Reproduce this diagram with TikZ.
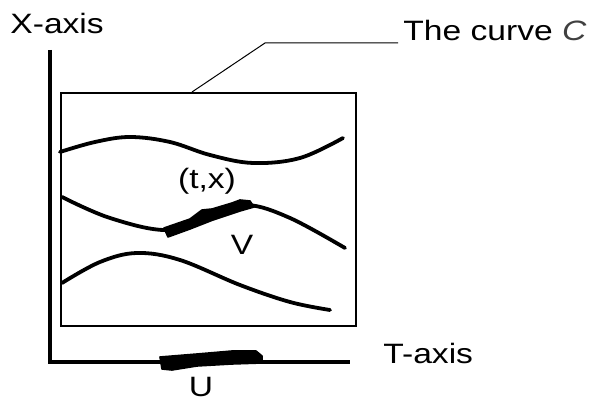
\documentclass[tikz,border=0pt]{standalone}
\usepackage{fontspec}
\setmainfont{Liberation Sans}
\begin{document}
\begin{tikzpicture}[x=0.5pt,y=-0.5pt,
  lbl/.style={inner sep=0pt,font=\fontsize{14}{16}\selectfont},
  curveline/.style={line width=1.9pt,line cap=round,line join=round},
  axisline/.style={line width=2.3pt,line join=miter},
  thickpart/.style={fill=black,draw=black,line width=0.8pt,line join=round}]
\useasboundingbox (0,0) rectangle (589,400);
% axes
\coordinate (ytop) at (50,50);
\coordinate (origin) at (50,362);
\coordinate (xend) at (350,362);
\draw[axisline] (ytop) -- (origin) -- (xend);
% box
\node[draw,line width=0.8pt,minimum width=147.5pt,minimum height=116.5pt,inner sep=0pt,anchor=north west] (box) at (60,92) {};
% labels
\newcommand{\wide}[1]{\scalebox{1.2}[1]{#1}}
\node[lbl,anchor=base west] (xlab) at (10,34) {\wide{X-axis}};
\node[lbl,anchor=base west] (tlab) at (383,364) {\wide{T-axis}};
\node[lbl,anchor=base west] (clab) at (403,41) {\wide{The curve {\color{black!75}\itshape C}}};
\node[lbl,anchor=base] (tx) at (207,189) {\wide{(t,x)}};
\node[lbl,anchor=base] (vlab) at (242,255) {\wide{V}};
\node[lbl,anchor=base] (ulab) at (201,397) {\wide{U}};
% leader
\coordinate (lead1) at (192,92);
\coordinate (lead2) at (265,43);
\coordinate (lead3) at (398,43);
\draw[line width=0.5pt] (lead1) -- (lead2) -- (lead3);
% curves
\draw[curveline] plot[smooth,tension=0.6] coordinates {(60,152) (95,142) (130,137) (170,142) (210,155) (253,163) (300,158) (343,138)};
\draw[curveline] plot[smooth,tension=0.6] coordinates {(62,197) (110,218) (167,230) (210,215) (247,205) (290,218) (345,248)};
\draw[curveline] plot[smooth,tension=0.6] coordinates {(62,283) (100,262) (137,253) (180,260) (240,285) (290,302) (330,310)};
% thick part V
\fill[thickpart] (164,228) -- (190,219) -- (202,210) -- (212,209) -- (232,203) -- (240,200) -- (250,201) -- (254,207) -- (240,211) -- (213,220) -- (190,229) -- (168,237) -- cycle;
% thick part U
\fill[thickpart] (160,357) -- (197,354) -- (232,351) -- (256,351) -- (262,356) -- (262,363) -- (232,364) -- (197,366) -- (172,370) -- (162,369) -- cycle;
\end{tikzpicture}
\end{document}
